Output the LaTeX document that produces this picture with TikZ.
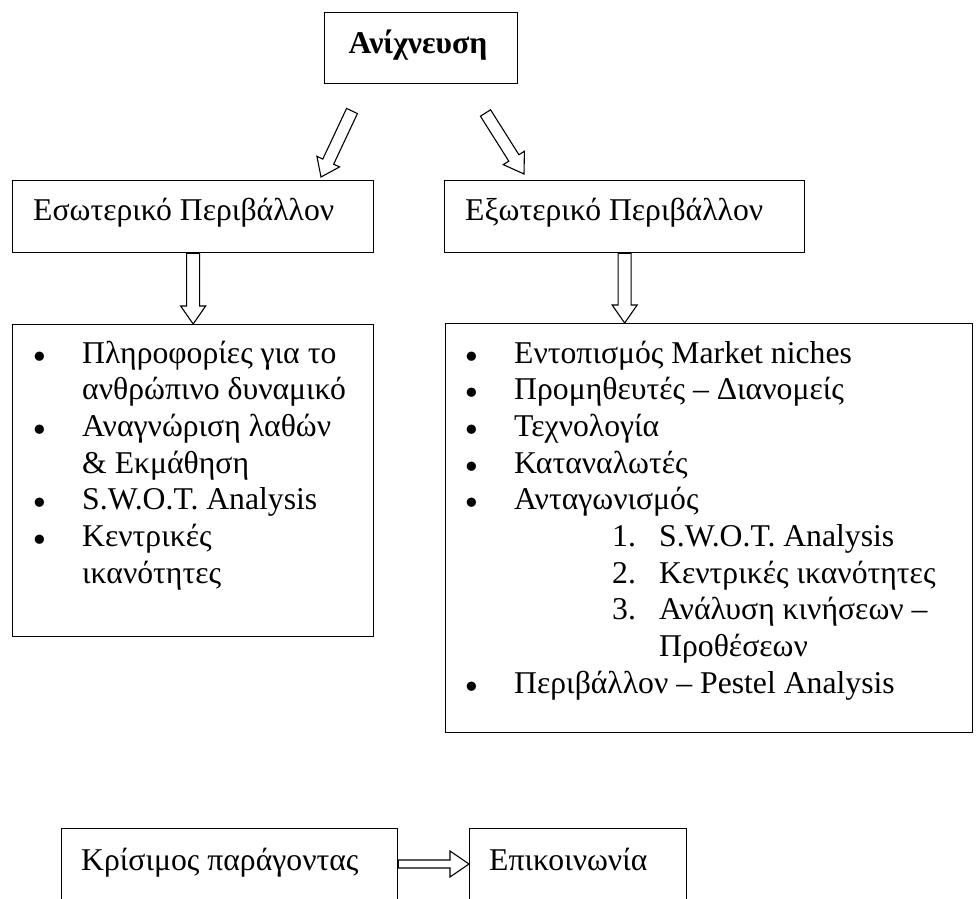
\documentclass[tikz,border=0pt]{standalone}
\usepackage{fontspec}
\setmainfont{Liberation Serif}
\newfontfamily\dvsans{DejaVu Sans}
\usetikzlibrary{calc}
\tikzset{
  box/.style={draw=black, line width=1.3pt, fill=white, inner sep=0pt, anchor=north west},
  txt/.style={inner sep=0pt, anchor=base west, font=\fontsize{31.7}{36.7}\selectfont},
  ctr/.style={inner sep=0pt, anchor=base, font=\fontsize{31.7}{36.7}\selectfont},
  blk/.style={draw=black, line width=1.1pt, fill=white, line join=miter}
}
\newcommand\blockarr[5]{%
  \coordinate (hb) at ($(#2)!#5!(#1)$);
  \draw[blk] ($(#1)!#3!90:(#2)$) -- ($(hb)!#3!90:(#2)$) -- ($(hb)!#4!90:(#2)$)
    -- (#2) -- ($(hb)!#4!-90:(#2)$) -- ($(hb)!#3!-90:(#2)$) -- ($(#1)!#3!-90:(#2)$) -- cycle;
}
\newcommand\bl{\llap{\makebox[84pt][c]{\smash{\raisebox{-5pt}{\dvsans •}}}}}
\begin{document}
\begin{tikzpicture}[x=1pt,y=-1pt]
\useasboundingbox (0,0) rectangle (980,898);
\fill[white] (0,0) rectangle (980,898);
\clip (0,0) rectangle (980,898);
% boxes
\node[box, minimum width=193pt, minimum height=71pt] (top) at (324,12) {};
\node[box, minimum width=361pt, minimum height=72pt] (eso) at (12,180) {};
\node[box, minimum width=360pt, minimum height=72pt] (exo) at (444,180) {};
\node[box, minimum width=361pt, minimum height=312pt] (esolist) at (12,324) {};
\node[box, minimum width=527pt, minimum height=409pt] (exolist) at (445,323) {};
\node[box, minimum width=336pt, minimum height=90pt] (kris) at (61,828) {};
\node[box, minimum width=217pt, minimum height=90pt] (epik) at (469,828) {};
% texts
\node[ctr, font=\fontsize{31.7}{36.7}\selectfont\bfseries] (ttop) at (418,53) {Ανίχνευση};
\node[txt] (teso) at (33,220) {Εσωτερικό Περιβάλλον};
\node[txt] (texo) at (465,220) {Εξωτερικό Περιβάλλον};
\node[txt] (tkris) at (81,870) {Κρίσιμος παράγοντας};
\node[txt] (tepik) at (489,870) {Επικοινωνία};
% left list
\node[txt] (l1) at (82,363) {\bl Πληροφορίες για το};
\node[txt] (l2) at (82,399.7) {ανθρώπινο δυναμικό};
\node[txt] (l3) at (82,436.4) {\bl Αναγνώριση λαθών};
\node[txt] (l4) at (82,473.1) {\& Εκμάθηση};
\node[txt] (l5) at (82,509.8) {\bl S.W.O.T. Analysis};
\node[txt] (l6) at (82,546.5) {\bl Κεντρικές};
\node[txt] (l7) at (82,583.2) {ικανότητες};
% right list
\node[txt] (r1) at (514,363) {\bl Εντοπισμός Market niches};
\node[txt] (r2) at (514,399.7) {\bl Προμηθευτές – Διανομείς};
\node[txt] (r3) at (514,436.4) {\bl Τεχνολογία};
\node[txt] (r4) at (514,473.1) {\bl Καταναλωτές};
\node[txt] (r5) at (514,509.8) {\bl Ανταγωνισμός};
\node[txt] (rn1) at (612,546.5) {1.};
\node[txt] (r6) at (659,546.5) {S.W.O.T. Analysis};
\node[txt] (rn2) at (612,583.2) {2.};
\node[txt] (r7) at (659,583.2) {Κεντρικές ικανότητες};
\node[txt] (rn3) at (612,619.9) {3.};
\node[txt] (r8) at (659,619.9) {Ανάλυση κινήσεων –};
\node[txt] (r9) at (659,656.6) {Προθέσεων};
\node[txt] (r10) at (514,693.3) {\bl Περιβάλλον – Pestel Analysis};
% arrows
\coordinate (a1s) at (352,111);
\coordinate (a1e) at ($(eso.north west)+(309,-3)$);
\coordinate (a2s) at (485.5,113);
\coordinate (a2e) at ($(exo.north west)+(80,-6)$);
\blockarr{a1s}{a1e}{6pt}{12.5pt}{17pt}
\blockarr{a2s}{a2e}{6pt}{12.5pt}{19pt}
\blockarr{eso.south}{esolist.north}{6.5pt}{12.5pt}{18pt}
\coordinate (a4e) at (exo.south |- exolist.north);
\blockarr{exo.south}{a4e}{6.5pt}{12.5pt}{18pt}
\coordinate (a5s) at (kris.north east |- 0,864);
\coordinate (a5e) at (epik.north west |- 0,864);
\blockarr{a5s}{a5e}{4pt}{13pt}{19pt}
\end{tikzpicture}
\end{document}
